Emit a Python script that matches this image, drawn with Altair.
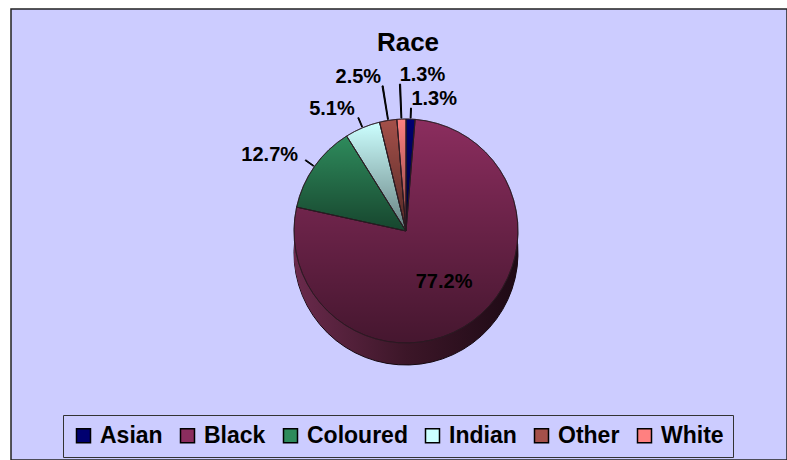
import altair as alt
import pandas as pd

categories = ["Asian", "Black", "Coloured", "Indian", "Other", "White"]
percents = [1.3, 77.2, 12.7, 5.1, 2.5, 1.3]
labels = ["1.3%", "77.2%", "12.7%", "5.1%", "2.5%", "1.3%"]
colors = ["#000070", "#8B2D5E", "#2E8B5C", "#CCFFFF", "#A5504A", "#FF8080"]

df = pd.DataFrame({"category": categories, "value": percents,
                   "label": labels, "idx": list(range(len(categories)))})

W, H = 776, 451
CX, CY = 395, 222
R = 112
DEPTH = 22
R_IN, R_NEAR, R_FAR = 64, R + 20, R + 44
FONT = "Liberation Sans"

base = alt.Chart(df)
theta_enc = alt.Theta("value:Q", stack=True)
order_enc = alt.Order("idx:Q")
xc = alt.value(CX)

side_grad = alt.Gradient(
    gradient="linear", x1=0, x2=1, y1=0, y2=0,
    stops=[alt.GradientStop(color="#6A2A4C", offset=0),
           alt.GradientStop(color="#3C1628", offset=0.5),
           alt.GradientStop(color="#1E0A15", offset=1)])

shade_grad = alt.Gradient(
    gradient="linear", x1=0, x2=0, y1=0, y2=1,
    stops=[alt.GradientStop(color="rgba(0,0,0,0)", offset=0),
           alt.GradientStop(color="rgba(0,0,0,0.5)", offset=1)])

layers = []
for d in range(DEPTH, 0, -1):
    kw = dict(radius=R, fill=side_grad)
    if d == DEPTH:
        kw.update(stroke="#140810", strokeWidth=1)
    layers.append(base.mark_arc(**kw).encode(
        theta=theta_enc, order=order_enc, x=xc, y=alt.value(CY + d)))

top = base.mark_arc(radius=R, stroke="#2a1a22", strokeWidth=0.6).encode(
    theta=theta_enc, order=order_enc, x=xc, y=alt.value(CY),
    color=alt.Color("category:N",
                    scale=alt.Scale(domain=categories, range=colors),
                    legend=alt.Legend(
                        title=None, orient="none", legendX=52, legendY=406,
                        direction="horizontal", fillColor="#CCCCFF",
                        strokeColor="#333333", padding=9,
                        symbolType="square", symbolSize=196,
                        symbolStrokeColor="#000000", symbolStrokeWidth=1.5,
                        labelFont=FONT, labelFontSize=23,
                        labelFontWeight="bold", labelColor="#000000",
                        columnPadding=13, labelOffset=5)))
layers.append(top)

shade = base.mark_arc(radius=R, fill=shade_grad).encode(
    theta=theta_enc, order=order_enc, x=xc, y=alt.value(CY))
layers.append(shade)

outline = base.mark_arc(radius=R, fillOpacity=0, stroke="#2a1a22",
                        strokeWidth=0.8).encode(
    theta=theta_enc, order=order_enc, x=xc, y=alt.value(CY))
layers.append(outline)

geom = base.transform_window(
    cum="sum(value)", sort=[alt.SortField("idx")]
).transform_joinaggregate(
    total="sum(value)"
).transform_calculate(
    mid="(datum.cum - datum.value/2) / datum.total * 2 * PI",
    labr=f"datum.category == 'Black' ? {R_IN} : "
         f"((datum.category == 'Other' || datum.category == 'White') ? {R_FAR} : {R_NEAR})"
)

leaders = geom.transform_filter("datum.category != 'Black'").transform_calculate(
    t1="datum.mid - 0.004", t2="datum.mid + 0.004",
    r1=str(R + 1), r2="datum.labr - 9"
).mark_arc(fill="#000000", stroke="#000000", strokeWidth=1).encode(
    theta=alt.Theta("t1:Q", scale=None), theta2="t2:Q",
    radius=alt.Radius("r1:Q", scale=None), radius2="r2:Q",
    x=xc, y=alt.value(CY))
layers.append(leaders)

def text_layer(filt, align):
    return geom.transform_filter(filt).mark_text(
        align=align, baseline="middle", font=FONT, fontSize=20,
        fontWeight="bold", color="#000000").encode(
        theta=alt.Theta("mid:Q", scale=None),
        radius=alt.Radius("labr:Q", scale=None),
        text="label:N", x=xc, y=alt.value(CY))

layers.append(text_layer("datum.category == 'Asian' || datum.category == 'White'", "left"))
layers.append(text_layer("datum.category == 'Other' || datum.category == 'Indian' || datum.category == 'Coloured'", "right"))
layers.append(text_layer("datum.category == 'Black'", "center"))

chart = alt.layer(*layers).properties(
    width=W, height=H,
    title=alt.TitleParams("Race", fontSize=26, font=FONT, fontWeight="bold",
                          color="#000000", anchor="middle", offset=-47, dx=9),
    autosize=alt.AutoSizeParams(type="none"),
    padding={"left": 11, "top": 9, "right": 0, "bottom": 0},
    background="#FFFFFF",
).configure_view(
    fill="#CCCCFF", stroke="#222222", strokeWidth=1.5
)

chart.save("out.html", embed_options={"renderer": "svg", "actions": False})
